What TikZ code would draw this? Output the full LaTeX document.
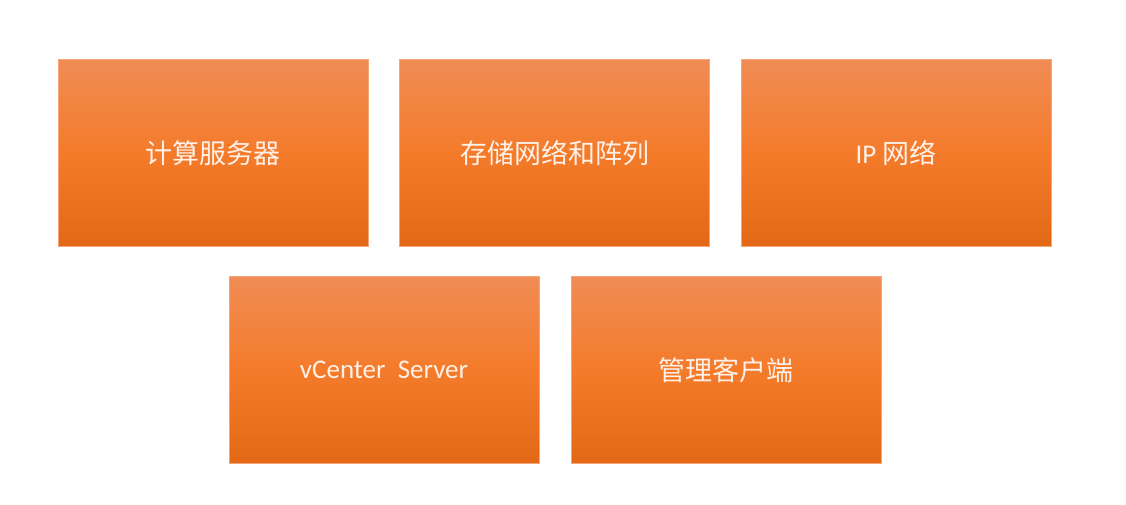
\documentclass[tikz,border=0pt]{standalone}
\usepackage{fontspec}
\setmainfont{Carlito}
\newfontfamily\cjk{Noto Sans CJK SC}
\definecolor{otop}{HTML}{F08C55}
\definecolor{omid}{HTML}{F47B2A}
\definecolor{obot}{HTML}{E36816}
\definecolor{oedge}{HTML}{F4A676}
\definecolor{txt}{HTML}{FFF1E8}
\begin{document}
\begin{tikzpicture}[x=1pt,y=-1pt,
  box/.style={rectangle, minimum width=310pt, minimum height=187pt, inner sep=0pt,
    top color=otop, bottom color=obot, middle color=omid, draw=oedge, line width=0.6pt,
    text=txt, font=\fontsize{27}{32}\selectfont}]
\useasboundingbox (0,0) rectangle (1126,505);
\fill[white] (0,0) rectangle (1126,505);
\node[box] (compute) at (213,153) {\cjk 计算服务器};
\node[box] (storage) at (554.5,153) {\cjk 存储网络和阵列};
\node[box] (ipnet)   at (896,153) {IP {\cjk 网络}};
\node[box] (vcenter) at (384,370) {vCenter\ \ Server};
\node[box] (client)  at (726,370) {\cjk 管理客户端};
\end{tikzpicture}
\end{document}
